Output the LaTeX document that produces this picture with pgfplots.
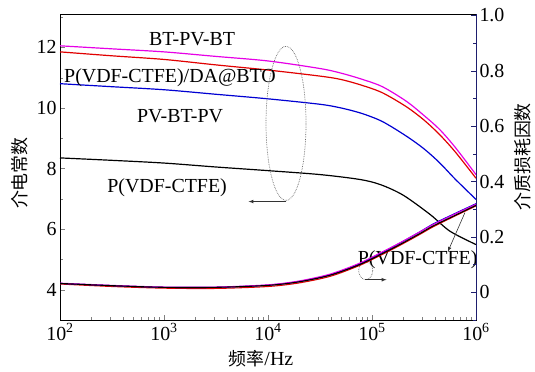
\documentclass[border=0pt]{standalone}
\usepackage{pgfplots}
\pgfplotsset{compat=1.18}
\usepackage{fontspec}
\setmainfont{Liberation Serif}
\newfontfamily\cjk{Noto Sans CJK SC}
\definecolor{navy}{RGB}{30,30,110}
\definecolor{mag}{RGB}{230,0,230}
\definecolor{myred}{RGB}{225,0,0}
\definecolor{myblue}{RGB}{0,0,210}
\begin{document}
\begin{tikzpicture}[font=\fontsize{20}{23}\selectfont]
\useasboundingbox (-60bp,-52bp) rectangle (475bp,320bp);
\begin{axis}[name=ax, at={(0,0)}, anchor=south west, scale only axis,
  width=416bp, height=306bp,
  xmode=log, xmin=1e2, xmax=1e6, ymin=3, ymax=13.1,
  xtick={1e2,1e3,1e4,1e5,1e6},
  minor xtick={200,300,400,500,600,700,800,900,2000,3000,4000,5000,6000,7000,8000,9000,2e4,3e4,4e4,5e4,6e4,7e4,8e4,9e4,2e5,3e5,4e5,5e5,6e5,7e5,8e5,9e5},
  xticklabels={10\textsuperscript{2},10\textsuperscript{3},10\textsuperscript{4},10\textsuperscript{5},10\textsuperscript{6}},
  ytick={4,6,8,10,12}, minor ytick={3,5,7,9,11,13},
  tick align=inside, xtick pos=bottom, ytick pos=left,
  major tick length=5bp, minor tick length=3bp,
  /pgf/number format/assume math mode=true,
  xlabel={{\cjk\fontsize{18}{20}\selectfont 频率}/Hz},
  xlabel style={at={(axis description cs:0.483,0)}, anchor=center, yshift=-39bp},
  ylabel={\cjk\fontsize{18}{20}\selectfont 介电常数},
  ylabel style={at={(axis description cs:0,0.48)}, anchor=center, yshift=40bp},
  axis line style={line width=0.8pt},
  every axis plot/.append style={line width=1.2pt, no marks, smooth},
  clip=false,
]
\addplot[black] coordinates {(1e2,8.35) (3.162e2,8.27) (1e3,8.18) (3.162e3,8.05) (1e4,7.93) (3.162e4,7.8) (7.586e4,7.64) (1.202e5,7.47) (1.995e5,7.12) (3.631e5,6.48) (5.623e5,5.93) (1e6,5.49)};
\addplot[myblue] coordinates {(1e2,10.8) (3.162e2,10.7) (1e3,10.6) (3.162e3,10.45) (1e4,10.3) (3.162e4,10.12) (5.012e4,10.0) (7.943e4,9.82) (1.259e5,9.55) (2.138e5,9.07) (3.162e5,8.65) (4.467e5,8.19) (6.31e5,7.65) (1e6,6.98)};
\addplot[myred] coordinates {(1e2,11.85) (3.162e2,11.72) (1e3,11.6) (3.162e3,11.42) (1e4,11.25) (3.162e4,11.05) (5.012e4,10.94) (7.943e4,10.75) (1.259e5,10.5) (2.138e5,10.04) (3.162e5,9.6) (4.467e5,9.12) (6.31e5,8.55) (1e6,7.68)};
\addplot[mag] coordinates {(1e2,12.05) (3.162e2,11.95) (1e3,11.85) (3.162e3,11.7) (1e4,11.55) (3.162e4,11.3) (5.012e4,11.15) (7.943e4,10.95) (1.259e5,10.7) (2.138e5,10.22) (3.162e5,9.75) (4.467e5,9.29) (6.31e5,8.7) (1e6,7.8)};
\node at (axis cs:1862,12.26) {BT-PV-BT};
\node at (axis cs:1143,11.0) {P(VDF-CTFE)/DA@BTO};
\node at (axis cs:1426,9.72) {PV-BT-PV};
\node at (axis cs:1071,7.37) {P(VDF-CTFE)};
\node at (axis cs:2.75e5,4.99) {P(VDF-CTFE)};
\draw[gray!80!black, densely dotted, line width=0.7pt] (axis cs:1.49e4,9.49) ellipse [x radius=20bp, y radius=77bp];
\draw[-latex, line width=0.7pt, black!80] (axis cs:1.5e4,6.91) -- (axis cs:6.5e3,6.91);
\draw[gray!80!black, densely dotted, line width=0.7pt] (axis cs:8.7e4,4.63) ellipse [x radius=7bp, y radius=9bp];
\draw[-latex, line width=0.7pt, black!80] (axis cs:8.5e4,4.33) -- (axis cs:1.38e5,4.33);
\draw[-latex, line width=0.6pt, black!80] (axis cs:7.83e5,6.545) -- (axis cs:5.37e5,5.26);
\end{axis}
\begin{axis}[at={(0,0)}, anchor=south west, scale only axis,
  width=416bp, height=306bp,
  xmode=log, xmin=1e2, xmax=1e6, ymin=-0.1, ymax=1.005,
  axis y line*=right, axis x line=none,
  ytick={0,0.2,0.4,0.6,0.8,1.0}, yticklabels={0,0.2,0.4,0.6,0.8,1.0},
  minor ytick={-0.1,0.1,0.3,0.5,0.7,0.9},
  tick align=inside, major tick length=5bp, minor tick length=3bp,
  y axis line style={navy, line width=0.8pt},
  every tick/.style={navy},
  ylabel={\cjk\fontsize{18}{20}\selectfont 介质损耗因数},
  ylabel style={at={(axis description cs:1,0.533)}, anchor=center, yshift=-47bp},
  every axis plot/.append style={line width=1.1pt, no marks, smooth},
]
\addplot[myred] coordinates {(1e2,0.030) (3.162e2,0.021) (1e3,0.015) (3.162e3,0.014) (1e4,0.021) (1.995e4,0.034) (3.981e4,0.058) (7.586e4,0.097) (1.259e5,0.137) (1.862e5,0.170) (2.818e5,0.207) (3.89e5,0.237) (6.31e5,0.276) (1e6,0.312)};
\addplot[myblue] coordinates {(1e2,0.032) (3.162e2,0.024) (1e3,0.018) (3.162e3,0.018) (1e4,0.026) (1.995e4,0.039) (3.981e4,0.064) (7.586e4,0.103) (1.259e5,0.144) (1.862e5,0.178) (2.818e5,0.216) (3.89e5,0.247) (6.31e5,0.285) (1e6,0.320)};
\addplot[mag] coordinates {(1e2,0.033) (3.162e2,0.025) (1e3,0.019) (3.162e3,0.019) (1e4,0.027) (1.995e4,0.041) (3.981e4,0.066) (7.586e4,0.105) (1.259e5,0.146) (1.862e5,0.179) (2.818e5,0.216) (3.89e5,0.245) (6.31e5,0.283) (1e6,0.318)};
\addplot[black] coordinates {(1e2,0.032) (3.162e2,0.024) (1e3,0.018) (3.162e3,0.018) (1e4,0.025) (1.995e4,0.038) (3.981e4,0.062) (7.586e4,0.10) (1.259e5,0.14) (1.862e5,0.173) (2.818e5,0.21) (3.89e5,0.24) (6.31e5,0.278) (1e6,0.314)};
\end{axis}
\end{tikzpicture}
\end{document}
